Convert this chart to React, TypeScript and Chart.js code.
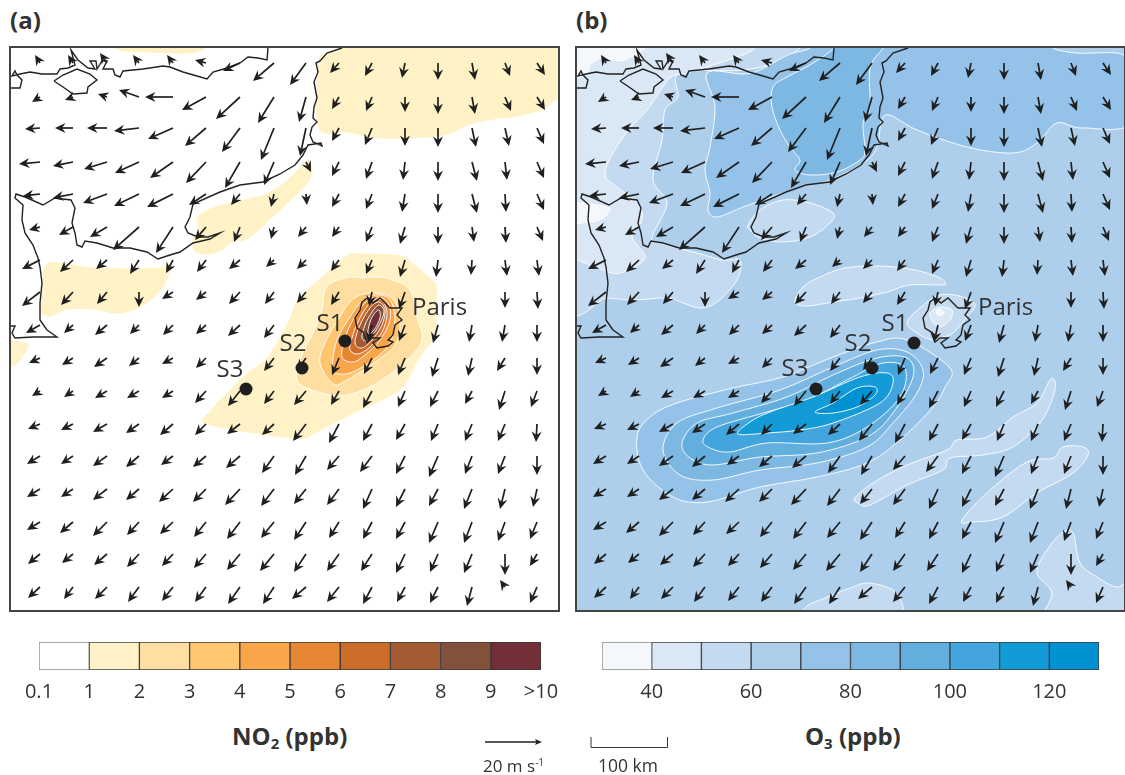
import React, { useEffect, useRef } from "react";
import { Chart, registerables } from "chart.js";

Chart.register(...registerables);

type P = number[];

// ---- wind field (tail grid, tail-to-tip components) ----
const windCols = [40, 73, 107, 139, 173, 206, 240, 274, 306, 339, 372, 405, 438, 472, 505, 537];
const windRows = [63, 97, 128, 162, 194, 227, 260, 292, 325, 358, 391, 424, 456, 489, 522, 554, 587];
const _ = null;
const windU = [
  [-5, -5, -7, -6, -6, -11, -17, -21, -16, -9, -7, -3, 0, 3, 5, 8],
  [-8, -8, -9, -20, -28, -24, -24, -16, -7, -7, -6, 0, 0, 3, 6, 8],
  [-15, -18, -20, -25, -25, -21, -18, -13, -6, -7, -7, 0, 0, 4, 4, 7],
  [-21, -20, -23, -24, -23, -20, -15, -10, 5, -7, -6, -2, 0, 5, 2, 7],
  [-17, -20, -24, -25, -26, -17, -9, -3, 1, -7, -6, -3, 0, 5, 1, 7],
  [-11, -14, -17, -26, -17, -11, -6, -3, -8, -7, -6, -5, 0, 2, 1, 6],
  [-18, -13, -11, -9, -7, -9, -11, -8, -9, -8, -6, -5, -2, -1, 2, 2],
  [-18, -12, -10, 0, -11, -10, -11, -9, -9, -8, -3, -6, _, _, 0, 1],
  [-14, -9, -12, -9, -10, -10, -12, -10, _, _, -4, -6, -5, -3, -3, 0],
  [-11, -11, -13, -10, -11, -10, _, -10, -9, -7, -8, -7, -6, -4, -8, 0],
  [-8, -9, -12, -12, -11, -11, -12, -10, -12, -8, -9, -7, -8, -7, -6, -6],
  [-12, -12, -14, -13, -13, -11, -13, -12, -13, -10, -9, -9, -7, -7, -7, -1],
  [-13, -12, -14, -13, -12, -13, -14, -12, -11, -12, -12, -9, -9, -7, -7, 0],
  [-13, -12, -14, -13, -14, -13, -15, -13, -12, -12, -9, -9, -9, -8, -5, -4],
  [-13, -13, -14, -12, -13, -12, -13, -13, -12, -10, -9, -9, -9, -8, -7, -7],
  [-12, -11, -13, -12, -11, -12, -13, -14, -12, -12, -11, -9, -8, -8, 0, -7],
  [-12, -9, -12, -11, -11, -11, -12, -11, -14, -12, -9, -8, -8, -5, -5, -7],
];
const windV = [
  [-8, -8, -10, -8, -8, -3, 8, 18, 22, 10, 13, 15, 17, 17, 13, 12],
  [5, 3, -3, -7, 0, 13, 22, 26, 25, 12, 14, 15, 17, 17, 14, 13],
  [1, 0, 0, 3, 11, 18, 24, 32, 28, 13, 17, 18, 19, 19, 18, 16],
  [2, 4, 7, 11, 16, 21, 26, 23, 10, 14, 17, 18, 19, 19, 18, 16],
  [2, 4, 9, 12, 13, 11, 11, 13, 11, 13, 15, 18, 19, 19, 18, 16],
  [3, 8, 10, 23, 26, 13, 15, 12, 10, 10, 15, 17, 17, 15, 16, 14],
  [9, 12, 9, 14, 13, 12, 9, 7, 9, 11, 14, 17, 17, 15, 16, 16],
  [14, 13, 12, 15, 7, 8, 12, 12, 11, 13, 14, 17, _, _, 16, 17],
  [8, 8, 10, 9, 10, 9, 11, 13, _, _, 17, 16, 18, 17, 17, 17],
  [5, 7, 9, 8, 6, 10, _, 13, 12, 17, 16, 17, 19, 18, 13, 17],
  [5, 6, 7, 7, 7, 12, 15, 13, 14, 14, 17, 16, 16, 13, 19, 16],
  [5, 6, 8, 9, 11, 11, 10, 11, 17, 19, 17, 16, 17, 17, 17, 18],
  [8, 8, 10, 11, 9, 11, 12, 17, 19, 14, 16, 18, 21, 18, 18, 19],
  [8, 8, 11, 11, 13, 13, 16, 17, 15, 16, 20, 18, 17, 20, 20, 18],
  [8, 11, 14, 13, 12, 15, 17, 16, 18, 16, 17, 17, 21, 21, 19, 17],
  [10, 9, 11, 13, 12, 14, 16, 17, 18, 17, 17, 19, 18, 19, 21, 12],
  [11, 12, 12, 15, 14, 15, 17, 17, 12, 15, 17, 15, 16, 19, -7, 16],
];

// ---- coastline and Paris outline (map coordinates of panel a) ----
const coastNorth: P[] = [[10,88],[20,88],[22,80],[17,75],[15,71],[12,76],[20,74],[30,72],[42,74],[57,74],[60,69],[68,68],[75,65],[71,50],[78,60],[88,68],[95,69],[90,61],[96,61],[97,69],[102,61],[107,61],[103,69],[113,69],[115,75],[120,77],[123,71],[143,69],[163,66],[170,67],[183,72],[197,76],[207,79],[213,72],[227,68],[240,63],[248,57],[258,58],[267,60],[268,48]];
const isleOfWight: P[] = [[54,81],[63,75],[77,69],[90,74],[97,80],[88,87],[87,93],[73,94],[63,87],[54,81]];
const coastSouth: P[] = [[342,48],[327,53],[320,61],[316,63],[318,72],[314,82],[317,98],[314,107],[313,118],[317,122],[312,127],[310,135],[313,142],[322,146],[321,143],[308,145],[303,155],[295,165],[280,174],[263,182],[240,185],[220,192],[193,204],[190,217],[185,227],[188,233],[198,237],[208,237],[220,233],[210,239],[193,243],[180,252],[170,255],[158,259],[147,252],[130,248],[113,248],[97,243],[85,241],[82,247],[77,245],[75,233],[72,223],[75,208],[71,200],[55,198],[43,205],[25,197],[16,194],[15,198],[23,205],[22,220],[25,233],[33,245],[38,258],[40,267],[42,283],[40,303],[40,320],[47,330],[57,337],[33,337],[15,338],[12,333],[15,326],[10,326]];
const parisOutline: P[] = [[367,298],[373,303],[380,298],[385,303],[390,308],[402,308],[397,315],[402,320],[395,325],[393,335],[388,340],[393,342],[388,346],[377,348],[373,343],[380,338],[372,338],[367,342],[363,332],[357,328],[355,318],[360,310],[362,302],[367,298]];

// ---- NO2 contour polygons ----
const no2Colors = ["#FFFFFF","#FFF2C7","#FFDFA1","#FFC56F","#F9A54A","#E68633","#CB6C2B","#A45A32","#82533A","#722F37"];
const no2TickLabels = ["0.1","1","2","3","4","5","6","7","8","9",">10"];
const no2Shapes: [number, P[]][] = [
  [1, [[342,48],[345,35],[600,35],[600,95],[559,100],[543,110],[517,117],[493,120],[470,125],[453,133],[437,137],[407,139],[380,139],[347,133],[318,128],[318,63],[327,53]]],
  [1, [[112,45],[120,51],[150,53],[187,54],[203,50],[205,38],[110,38]]],
  [1, [[310,160],[313,172],[308,183],[297,195],[283,208],[267,223],[247,240],[233,242],[220,252],[203,255],[193,250],[192,240],[197,230],[197,217],[213,207],[240,200],[267,193],[287,180],[305,162]]],
  [1, [[50,262],[67,263],[93,267],[133,268],[160,267],[172,263],[170,273],[160,292],[140,308],[117,314],[93,310],[67,310],[50,317],[40,310],[42,287],[43,270]]],
  [1, [[2,341],[23,342],[29,345],[23,357],[13,367],[2,367]]],
  [1, [[318,280],[347,255],[360,253],[400,255],[413,263],[433,280],[437,287],[437,313],[435,337],[420,358],[403,388],[377,403],[347,417],[313,435],[306,439],[275,437],[232,430],[203,423],[210,410],[247,373],[267,357],[287,323],[297,300]]],
  [2, [[325,290],[333,282],[350,277],[363,278],[377,277],[393,280],[410,290],[417,317],[422,340],[407,360],[377,383],[347,395],[322,393],[298,382],[300,360],[312,335],[322,310]]],
  [3, [[320,363],[325,343],[338,320],[352,300],[370,293],[392,298],[400,320],[395,345],[375,362],[347,380],[333,384]]],
  [4, [[332,367],[335,373],[350,373],[373,360],[390,343],[395,320],[390,300],[377,295],[363,300],[350,317],[337,340]]],
  [5, [[342,357],[353,362],[365,355],[380,340],[390,320],[388,303],[378,297],[366,302],[353,320],[345,338]]],
  [6, [[350,350],[358,354],[370,347],[382,332],[387,315],[384,303],[377,299],[368,305],[358,322],[352,338]]],
  [7, [[355,343],[362,348],[372,340],[382,325],[385,310],[379,302],[370,308],[360,325]]],
  [8, [[362,338],[368,340],[378,327],[384,312],[379,305],[372,312],[365,325]]],
  [9, [[368,333],[374,330],[380,318],[379,310],[374,314],[370,322]]],
];

// ---- O3 contour polygons ----
const o3Colors = ["#F4F8FC","#DAE7F5","#C4DAF0","#ADCFEC","#95C2E8","#7DB8E3","#62AEDF","#42A5DD","#129BD7","#0091D2"];
const o3Bounds = [30,40,50,60,70,80,90,100,110,120,130];
const o3Shapes: [number, P[]][] = [
  [3, [[570,40],[1132,40],[1132,620],[570,620]]],
  [2, [[800,38],[800,48],[777,62],[743,70],[680,73],[678,97],[665,110],[662,140],[653,180],[667,203],[652,237],[660,243],[697,253],[723,260],[740,260],[737,280],[717,302],[700,308],[683,303],[667,298],[633,300],[607,298],[565,296],[565,38]]],
  [1, [[755,38],[755,48],[737,57],[687,73],[670,78],[647,110],[623,137],[605,172],[617,187],[638,203],[642,220],[632,237],[645,258],[620,273],[603,270],[577,260],[565,260],[565,38]]],
  [0, [[565,38],[650,38],[625,60],[603,58],[590,65],[587,73],[565,78]]],
  [0, [[565,203],[607,207],[608,213],[600,220],[588,222],[565,223]]],
  [4, [[810,38],[810,48],[788,55],[760,70],[743,74],[707,73],[715,107],[710,147],[705,170],[710,193],[708,210],[717,217],[743,207],[763,200],[797,188],[830,180],[863,163],[877,147],[885,115],[917,130],[967,147],[1013,153],[1037,143],[1057,123],[1083,128],[1135,120],[1135,38]]],
  [3, [[1053,48],[1077,53],[1117,53],[1135,60],[1135,38],[1053,38]]],
  [5, [[773,87],[772,107],[780,130],[790,147],[800,160],[795,170],[810,175],[837,172],[860,160],[865,150],[863,123],[870,107],[870,68],[883,48],[885,38],[834,38],[834,48],[810,65],[787,77]]],
  [2, [[748,225],[760,210],[783,200],[810,203],[833,213],[830,223],[810,237],[783,242],[760,238],[750,230]]],
  [2, [[795,302],[803,287],[820,277],[845,268],[880,266],[915,270],[940,278],[945,283],[943,285],[910,285],[887,292],[860,298],[833,302],[807,306]]],
  [2, [[907,323],[920,308],[940,295],[963,297],[975,305],[967,317],[953,333],[943,337],[933,340],[920,335]]],
  [1, [[930,313],[940,307],[952,310],[950,320],[940,327],[933,322]]],
  [0, [[936,312],[940,309],[944,313],[940,316]]],
  [2, [[855,498],[873,483],[907,465],[947,450],[957,440],[987,437],[1013,417],[1037,403],[1050,380],[1055,382],[1053,397],[1040,423],[1013,447],[983,455],[950,458],[943,470],[907,485],[870,505],[858,503]]],
  [2, [[962,520],[990,490],[1027,462],[1053,458],[1063,447],[1083,447],[1088,455],[1073,473],[1037,493],[1003,517],[973,522]]],
  [2, [[1047,625],[1052,593],[1037,573],[1047,550],[1062,533],[1073,533],[1080,563],[1097,577],[1117,587],[1135,580],[1135,625]]],
  [2, [[805,625],[805,608],[825,598],[840,592],[853,587],[868,583],[893,590],[903,607],[900,625]]],
  [4, [[637,437],[650,417],[677,403],[733,388],[783,377],[833,357],[877,342],[907,340],[950,368],[945,387],[933,407],[900,440],[867,463],[817,477],[760,487],[707,502],[673,497],[643,470]]],
  [5, [[663,450],[677,423],[717,408],[780,390],[833,367],[877,350],[907,352],[923,370],[917,393],[893,423],[867,447],[817,463],[760,470],[713,480],[680,475]]],
  [6, [[682,443],[697,423],[733,413],[787,397],[833,375],[877,358],[907,358],[913,377],[893,413],[867,437],[817,453],[760,457],[713,465],[690,458]]],
  [7, [[703,440],[717,427],[767,412],[807,400],[853,377],[883,363],[905,368],[900,397],[867,427],[827,443],[767,443],[730,452],[710,448]]],
  [8, [[738,434],[750,422],[770,412],[813,397],[860,377],[887,373],[893,383],[880,403],[833,423],[800,430],[767,433]]],
  [9, [[815,412],[833,403],[857,388],[875,387],[875,395],[857,407],[833,413]]],
];

// ---- stations ----
const stationNames = ["S1", "S2", "S3"];
const stationsA: P[] = [[345,341],[302,368],[246,389]];
const stationsB: P[] = [[914,343],[872,368],[816,389]];
const stationLabelsA: P[] = [[330,324],[293,344],[230,370]];
const stationLabelsB: P[] = [[895,324],[858,344],[795,369]];

const panelShift = 566;
const TEXT = "#333333";
const LABEL_FONT = '24px "Open Sans"';

function drawClosedSmooth(ctx: CanvasRenderingContext2D, pts: { x: number; y: number }[]) {
  const n = pts.length;
  ctx.beginPath();
  ctx.moveTo(pts[0].x, pts[0].y);
  for (let i = 0; i < n; i++) {
    const p0 = pts[(i - 1 + n) % n], p1 = pts[i], p2 = pts[(i + 1) % n], p3 = pts[(i + 2) % n];
    const t = 1 / 6;
    ctx.bezierCurveTo(p1.x + (p2.x - p0.x) * t, p1.y + (p2.y - p0.y) * t, p2.x - (p3.x - p1.x) * t, p2.y - (p3.y - p1.y) * t, p2.x, p2.y);
  }
  ctx.closePath();
}

function drawArrow(ctx: CanvasRenderingContext2D, x0: number, y0: number, x1: number, y1: number) {
  const len = Math.hypot(x1 - x0, y1 - y0);
  if (len < 0.1) return;
  const ux = (x1 - x0) / len, uy = (y1 - y0) / len;
  const hl = 10.5, hw = 5, notch = 7;
  ctx.lineWidth = 1.7;
  ctx.strokeStyle = "#1f1f1f";
  ctx.fillStyle = "#1f1f1f";
  if (len > notch) {
    ctx.beginPath();
    ctx.moveTo(x0, y0);
    ctx.lineTo(x1 - ux * notch, y1 - uy * notch);
    ctx.stroke();
  }
  ctx.beginPath();
  ctx.moveTo(x1, y1);
  ctx.lineTo(x1 - ux * hl - uy * hw, y1 - uy * hl + ux * hw);
  ctx.lineTo(x1 - ux * notch, y1 - uy * notch);
  ctx.lineTo(x1 - ux * hl + uy * hw, y1 - uy * hl - ux * hw);
  ctx.closePath();
  ctx.fill();
}

const mapPlugin = {
  id: "mapPlugin",
  beforeDatasetDraw(chart: any, args: any) {
    const ds = chart.data.datasets[args.index];
    if (!ds.shapeFill) return;
    const { ctx, chartArea: a } = chart;
    ctx.save();
    ctx.beginPath();
    ctx.rect(a.left, a.top, a.right - a.left, a.bottom - a.top);
    ctx.clip();
    drawClosedSmooth(ctx, args.meta.data);
    ctx.fillStyle = ds.shapeFill;
    ctx.fill();
    ctx.strokeStyle = "rgba(255,255,255,0.9)";
    ctx.lineWidth = 1;
    ctx.stroke();
    ctx.restore();
  },
  afterDatasetDraw(chart: any, args: any) {
    const ds = chart.data.datasets[args.index];
    if (!ds.windVectors) return;
    const { ctx, scales } = chart;
    ctx.save();
    ds.data.forEach((d: any) => {
      drawArrow(ctx, scales.x.getPixelForValue(d.x), scales.y.getPixelForValue(d.y),
        scales.x.getPixelForValue(d.x + d.u), scales.y.getPixelForValue(d.y + d.v));
    });
    ctx.restore();
  },
  afterDatasetsDraw(chart: any) {
    const { ctx, scales, chartArea: a } = chart;
    const texts = chart.options.plugins.mapPlugin.texts as { text: string; x: number; y: number; align: string }[];
    ctx.save();
    ctx.font = LABEL_FONT;
    ctx.fillStyle = TEXT;
    ctx.textBaseline = "middle";
    texts.forEach((t) => {
      ctx.textAlign = t.align;
      ctx.fillText(t.text, scales.x.getPixelForValue(t.x), scales.y.getPixelForValue(t.y));
    });
    ctx.strokeStyle = "#444444";
    ctx.lineWidth = 2;
    ctx.strokeRect(a.left, a.top, a.right - a.left, a.bottom - a.top);
    ctx.restore();
  },
};

function mapConfig(panel: "a" | "b"): any {
  const shift = panel === "a" ? 0 : panelShift;
  const shapes = panel === "a" ? no2Shapes : o3Shapes;
  const colors = panel === "a" ? no2Colors : o3Colors;
  const stations = panel === "a" ? stationsA : stationsB;
  const labels = panel === "a" ? stationLabelsA : stationLabelsB;
  const xMin = panel === "a" ? 10 : 576;
  const datasets: any[] = [];
  shapes.forEach(([level, pts], i) => {
    datasets.push({
      label: `level ${level}`,
      data: pts.map(([x, y]) => ({ x, y })),
      shapeFill: colors[level],
      showLine: false,
      pointRadius: 0,
      order: 1000 - i,
    });
  });
  [coastNorth, isleOfWight, coastSouth, parisOutline].forEach((line, i) => {
    datasets.push({
      label: `coast ${i}`,
      data: line.map(([x, y]) => ({ x: x + shift + (i === 3 && shift ? 2 : 0), y })),
      showLine: true,
      borderColor: "#222222",
      borderWidth: 1.4,
      tension: 0,
      pointRadius: 0,
      order: 20 - i,
    });
  });
  const wind: any[] = [];
  windRows.forEach((y, r) => {
    windCols.forEach((x, c) => {
      const u = windU[r][c];
      const v = windV[r][c];
      if (u !== null && v !== null) wind.push({ x: x + shift, y, u, v });
    });
  });
  datasets.push({ label: "wind", data: wind, windVectors: true, showLine: false, pointRadius: 0, order: 5 });
  datasets.push({
    label: "stations",
    data: stations.map(([x, y]) => ({ x, y })),
    showLine: false,
    pointRadius: 6.5,
    pointBackgroundColor: "#1f1f1f",
    pointBorderWidth: 0,
    order: 1,
  });
  const texts = stationNames.map((text, i) => ({ text, x: labels[i][0], y: labels[i][1], align: "center" }));
  texts.push({ text: "Paris", x: panel === "a" ? 412 : 978, y: 308, align: "left" });
  return {
    type: "scatter",
    data: { datasets },
    plugins: [mapPlugin],
    options: {
      animation: false,
      responsive: false,
      events: [],
      layout: { padding: 3, autoPadding: false },
      scales: {
        x: { type: "linear", min: xMin, max: xMin + 549, display: false },
        y: { type: "linear", min: 47, max: 611, reverse: true, display: false },
      },
      plugins: { legend: { display: false }, tooltip: { enabled: false }, mapPlugin: { texts } },
    },
  };
}

function barConfig(kind: "no2" | "o3"): any {
  const colors = kind === "no2" ? no2Colors : o3Colors;
  const lows = kind === "no2" ? colors.map((_c, i) => i) : o3Bounds.slice(0, -1);
  const highs = kind === "no2" ? colors.map((_c, i) => i + 1) : o3Bounds.slice(1);
  return {
    type: "bar",
    data: {
      labels: [kind === "no2" ? "NO2" : "O3"],
      datasets: colors.map((c, i) => ({
        label: `${lows[i]}`,
        data: [[lows[i], highs[i]]],
        backgroundColor: c,
        borderColor: i === 0 ? "#8a8a8a" : "#3a3a3a",
        borderWidth: 1,
        borderSkipped: false,
        grouped: false,
        barPercentage: 1,
        categoryPercentage: 1,
      })),
    },
    options: {
      animation: false,
      responsive: false,
      events: [],
      indexAxis: "y",
      layout: { padding: { left: 30, right: 30, top: 2, bottom: 0 } },
      scales: {
        x: {
          type: "linear",
          min: kind === "no2" ? 0 : 30,
          max: kind === "no2" ? 10 : 130,
          afterFit: (axis: any) => { axis.height = 34; },
          grid: { display: false, drawTicks: false },
          border: { display: false },
          ticks: {
            stepSize: kind === "no2" ? 1 : 10,
            autoSkip: false,
            maxRotation: 0,
            padding: 10,
            color: TEXT,
            font: { family: '"Open Sans"', size: 20 },
            callback: (v: number) =>
              kind === "no2" ? no2TickLabels[v] : v % 20 === 0 && v >= 40 && v <= 120 ? String(v) : "",
          },
        },
        y: { display: false },
      },
      plugins: { legend: { display: false }, tooltip: { enabled: false } },
    },
  };
}

function ChartCanvas({ config, left, top, width, height }: any) {
  const ref = useRef<HTMLCanvasElement>(null);
  useEffect(() => {
    const chart = new Chart(ref.current as HTMLCanvasElement, config());
    return () => chart.destroy();
  }, []);
  return <canvas ref={ref} width={width} height={height} style={{ position: "absolute", left, top, width, height }} />;
}

const textBase: React.CSSProperties = { position: "absolute", fontFamily: '"Open Sans"', color: TEXT, whiteSpace: "nowrap", lineHeight: 1 };

export default function App() {
  return (
    <div style={{ position: "absolute", left: 0, top: 0, width: 1125, height: 775, background: "#fff", overflow: "hidden" }}>
      <div style={{ ...textBase, left: 10, top: 8, fontSize: 24, fontWeight: 700 }}>(a)</div>
      <div style={{ ...textBase, left: 576, top: 8, fontSize: 24, fontWeight: 700 }}>(b)</div>
      <ChartCanvas config={() => mapConfig("a")} left={7} top={44} width={555} height={570} />
      <ChartCanvas config={() => mapConfig("b")} left={573} top={44} width={555} height={570} />
      <ChartCanvas config={() => barConfig("no2")} left={9} top={640} width={562} height={64} />
      <ChartCanvas config={() => barConfig("o3")} left={572} top={640} width={557} height={64} />
      <div style={{ ...textBase, left: 232, top: 724, fontSize: 24, fontWeight: 700 }}>
        NO<sub style={{ fontSize: 15, verticalAlign: "-4px", lineHeight: 0 }}>2</sub> (ppb)
      </div>
      <div style={{ ...textBase, left: 805, top: 724, fontSize: 24, fontWeight: 700 }}>
        O<sub style={{ fontSize: 15, verticalAlign: "-4px", lineHeight: 0 }}>3</sub> (ppb)
      </div>
      <svg width={1125} height={775} style={{ position: "absolute", left: 0, top: 0, pointerEvents: "none" }}>
        <path d="M485 742 H537" stroke="#1f1f1f" strokeWidth={1.5} fill="none" />
        <path d="M542 742 L535 739 L536.5 742 L535 745 Z" fill="#1f1f1f" />
        <path d="M591 737 V747.5 H667.5 V737" stroke="#333" strokeWidth={1} fill="none" />
      </svg>
      <div style={{ ...textBase, left: 483, top: 757, fontSize: 17 }}>
        20 m s<sup style={{ fontSize: 10, verticalAlign: "6px", lineHeight: 0 }}>-1</sup>
      </div>
      <div style={{ ...textBase, left: 598, top: 757, fontSize: 17.5 }}>100 km</div>
    </div>
  );
}
